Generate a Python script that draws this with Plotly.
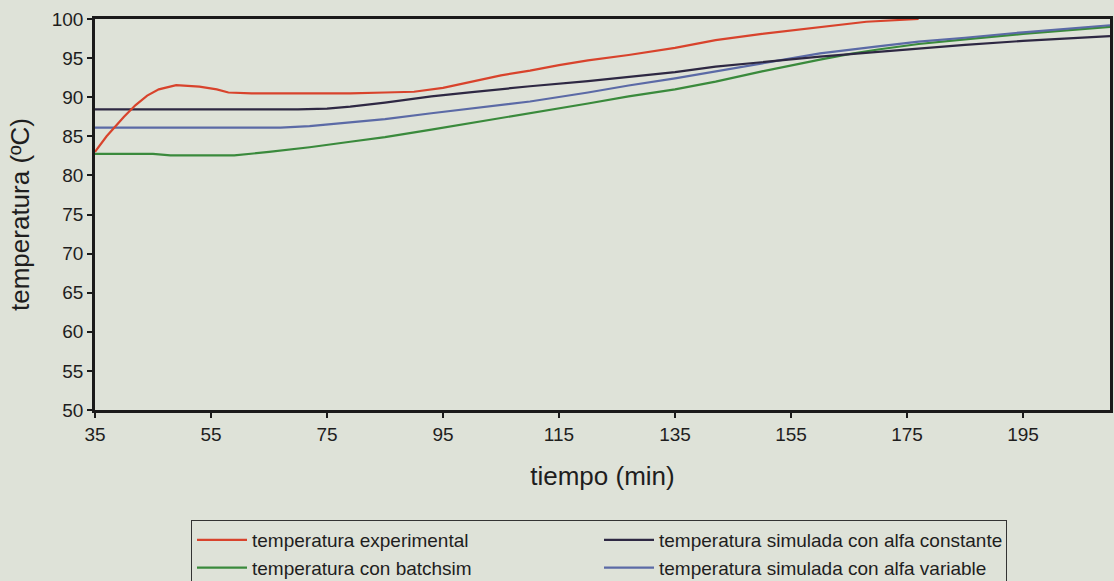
import plotly.graph_objects as go

# ---- data ----
t_exp = [35, 37, 40, 42, 44, 46, 49, 53, 56, 58, 62, 70, 79, 85, 90, 95, 101, 105, 110, 115, 120, 127, 135, 142, 150, 160, 168, 177]
temp_exp = [83.0, 85.0, 87.5, 89.0, 90.2, 91.0, 91.55, 91.35, 91.0, 90.6, 90.5, 90.5, 90.5, 90.6, 90.7, 91.2, 92.2, 92.8, 93.4, 94.1, 94.7, 95.4, 96.3, 97.3, 98.1, 99.0, 99.65, 100.0]

t_const = [35, 50, 60, 70, 75, 79, 85, 93, 100, 110, 120, 127, 135, 142, 150, 160, 170, 177, 185, 195, 210]
temp_const = [88.45, 88.45, 88.45, 88.45, 88.55, 88.8, 89.3, 90.1, 90.65, 91.4, 92.05, 92.55, 93.2, 93.9, 94.5, 95.2, 95.8, 96.25, 96.7, 97.2, 97.8]

t_batch = [35, 45, 48, 55, 59, 65, 72, 79, 85, 93, 100, 110, 120, 127, 135, 142, 150, 160, 165, 170, 177, 185, 195, 210]
temp_batch = [82.75, 82.75, 82.55, 82.5, 82.55, 83.0, 83.6, 84.3, 84.9, 85.85, 86.7, 88.0, 89.2, 90.1, 91.0, 92.0, 93.3, 94.8, 95.5, 96.1, 96.8, 97.4, 98.1, 99.0]

t_var = [35, 50, 60, 67, 72, 79, 85, 93, 100, 110, 120, 127, 135, 142, 150, 160, 170, 177, 185, 195, 210]
temp_var = [86.1, 86.1, 86.1, 86.1, 86.3, 86.75, 87.2, 87.95, 88.6, 89.45, 90.6, 91.5, 92.4, 93.3, 94.4, 95.6, 96.5, 97.1, 97.6, 98.3, 99.2]

x_ticks = [35, 55, 75, 95, 115, 135, 155, 175, 195]
y_ticks = [50, 55, 60, 65, 70, 75, 80, 85, 90, 95, 100]

names = ["temperatura experimental", "temperatura simulada con alfa constante",
         "temperatura con batchsim", "temperatura simulada con alfa variable"]

BG = "#dee2d8"
FONT = "Liberation Sans, Arial, sans-serif"

fig = go.Figure()
fig.add_trace(go.Scatter(x=t_batch, y=temp_batch, mode="lines", name=names[2],
                         line=dict(color="#3a8a3c", width=2.2), legendrank=3))
fig.add_trace(go.Scatter(x=t_var, y=temp_var, mode="lines", name=names[3],
                         line=dict(color="#5b6aa6", width=2.2), legendrank=4))
fig.add_trace(go.Scatter(x=t_const, y=temp_const, mode="lines", name=names[1],
                         line=dict(color="#2e2843", width=2.2), legendrank=2))
fig.add_trace(go.Scatter(x=t_exp, y=temp_exp, mode="lines", name=names[0],
                         line=dict(color="#d8432c", width=2.2), legendrank=1))

fig.update_layout(
    width=1114, height=581,
    margin=dict(l=95, r=1, t=19, b=171),
    paper_bgcolor=BG, plot_bgcolor=BG,
    font=dict(family=FONT, color="#1e1e1e"),
    showlegend=True,
    legend=dict(
        orientation="h", xref="container", yref="container",
        x=191 / 1114, xanchor="left", y=(581 - 520) / 581, yanchor="top",
        bgcolor=BG, bordercolor="#333333", borderwidth=1,
        font=dict(family=FONT, size=19, color="#1e1e1e"),
        itemwidth=50, entrywidth=342, entrywidthmode="pixels",
        traceorder="normal",
    ),
    xaxis=dict(
        range=[35, 210], tickvals=x_ticks, ticktext=[str(v) for v in x_ticks],
        showgrid=False, zeroline=False,
        showline=True, linecolor="#1a1a1a", linewidth=2.5, mirror=True,
        ticks="outside", ticklen=5, tickwidth=1.5, tickcolor="#1a1a1a",
        tickfont=dict(family=FONT, size=19, color="#1e1e1e"),
        title=dict(text="tiempo (min)", font=dict(family=FONT, size=26, color="#1e1e1e"), standoff=24),
    ),
    yaxis=dict(
        range=[50, 100], tickvals=y_ticks, ticktext=[str(v) for v in y_ticks],
        showgrid=False, zeroline=False,
        showline=True, linecolor="#1a1a1a", linewidth=2.5, mirror=True,
        ticks="outside", ticklen=5, tickwidth=1.5, tickcolor="#1a1a1a",
        tickfont=dict(family=FONT, size=19, color="#1e1e1e"),
        title=dict(text="temperatura (ºC)", font=dict(family=FONT, size=26, color="#1e1e1e"), standoff=15),
    ),
)

fig.write_html(
    "out.html",
    config={"displayModeBar": False},
    post_script="document.body.style.margin='0';document.body.style.overflow='hidden';",
)
